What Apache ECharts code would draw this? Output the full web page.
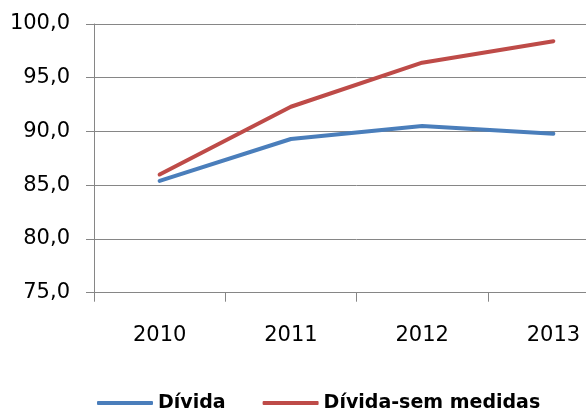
<!DOCTYPE html>
<html>
<head>
<meta charset="utf-8">
<script src="https://cdn.jsdelivr.net/npm/echarts@6/dist/echarts.min.js"></script>
<style>
  html, body { margin: 0; padding: 0; background: #fff; overflow: hidden; width: 586px; height: 412px; }
  /* a área do gráfico continua para lá da margem direita da janela */
  #chart { width: 619px; height: 412px; }
</style>
</head>
<body>
<div id="chart"></div>
<script>
// Anos e séries de dívida (% do PIB)
const anos = ['2010', '2011', '2012', '2013'];
const divida = [85.4, 89.3, 90.5, 89.8];
const dividaSemMedidas = [86.0, 92.3, 96.4, 98.4];
const eixoY = { min: 75, max: 100, step: 5 };

const FONT = 'DejaVu Sans';
const chart = echarts.init(document.getElementById('chart'), null, { renderer: 'canvas' });

const linha = (cor) => ({
  width: 4,
  color: cor,
  cap: 'round',
  join: 'round'
});

chart.setOption({
  animation: false,
  backgroundColor: '#ffffff',
  grid: { left: 94, right: 0, top: 24, bottom: 119.3, containLabel: false },
  legend: {
    left: 92,
    top: 388,
    itemWidth: 56,
    itemHeight: 4,
    itemGap: 37,
    icon: 'roundRect',
    textStyle: { fontFamily: FONT, fontWeight: 'bold', fontSize: 19, color: '#000', lineHeight: 20 },
    data: ['Dívida', 'Dívida-sem medidas']
  },
  xAxis: {
    type: 'category',
    data: anos,
    boundaryGap: true,
    axisLine: { show: true, lineStyle: { color: '#868686', width: 1 } },
    axisTick: { show: true, length: 9, lineStyle: { color: '#868686' } },
    axisLabel: { margin: 32, fontFamily: FONT, fontSize: 21, color: '#000' },
    splitLine: { show: false }
  },
  yAxis: {
    type: 'value',
    min: eixoY.min,
    max: eixoY.max,
    interval: eixoY.step,
    axisLine: { show: true, lineStyle: { color: '#868686', width: 1 } },
    axisTick: { show: true, length: 8, lineStyle: { color: '#868686' } },
    axisLabel: {
      margin: 24,
      fontFamily: FONT,
      fontSize: 21,
      color: '#000',
      formatter: (v) => v.toFixed(1).replace('.', ',')
    },
    splitLine: { show: true, lineStyle: { color: '#868686', width: 1 } }
  },
  series: [
    {
      name: 'Dívida',
      type: 'line',
      data: divida,
      symbol: 'none',
      smooth: false,
      lineStyle: linha('#4A7EBB'),
      itemStyle: { color: '#4A7EBB' },
      z: 3
    },
    {
      name: 'Dívida-sem medidas',
      type: 'line',
      data: dividaSemMedidas,
      symbol: 'none',
      smooth: false,
      lineStyle: linha('#BE4B48'),
      itemStyle: { color: '#BE4B48' },
      z: 3
    }
  ]
});
</script>
</body>
</html>
